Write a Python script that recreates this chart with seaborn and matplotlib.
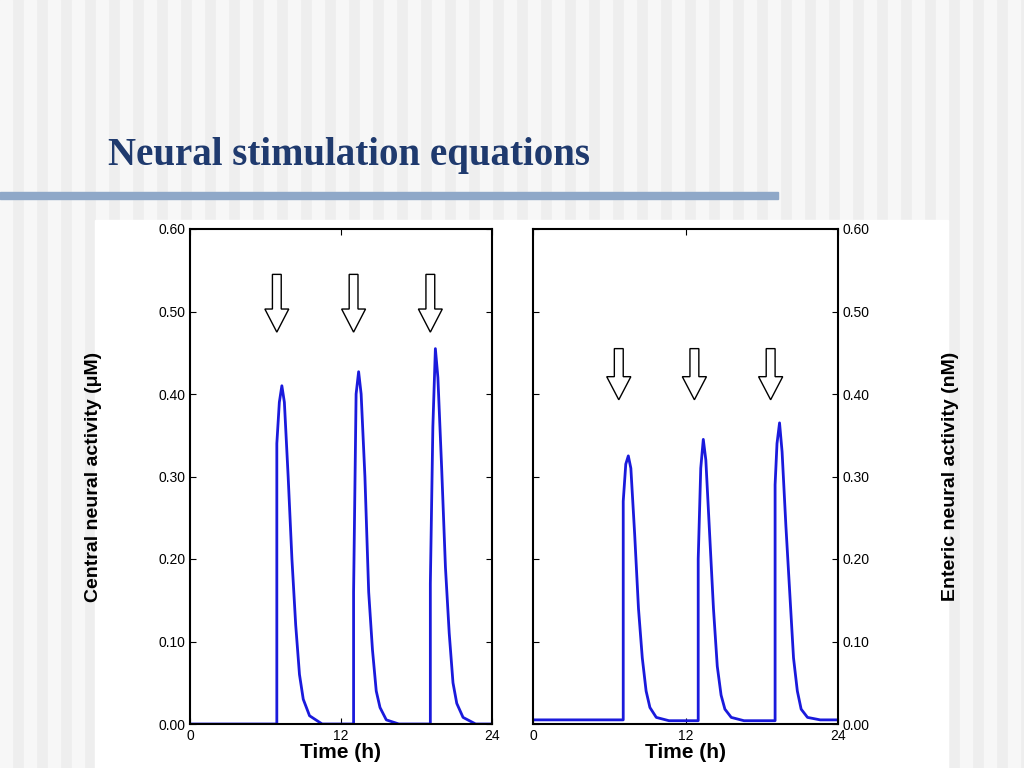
import matplotlib
matplotlib.use("Agg")
import matplotlib.pyplot as plt
import seaborn as sns
import pandas as pd
from matplotlib.patches import Rectangle, FancyArrow

plt.rcParams["font.family"] = "Liberation Sans"

# Central neural activity (uM)
central_t = [0, 6.9, 6.9, 7.1, 7.3, 7.5, 7.8, 8.1, 8.4, 8.7, 9.0, 9.5, 10.5,
             13.0, 13.0, 13.2, 13.4, 13.6, 13.9, 14.2, 14.5, 14.8, 15.1, 15.6, 16.6,
             19.1, 19.1, 19.3, 19.5, 19.7, 20.0, 20.3, 20.6, 20.9, 21.2, 21.7, 22.7, 24]
central_v = [0, 0, 0.34, 0.39, 0.41, 0.39, 0.30, 0.20, 0.12, 0.06, 0.03, 0.01, 0.0,
             0, 0.16, 0.40, 0.427, 0.40, 0.30, 0.16, 0.09, 0.04, 0.02, 0.005, 0.0,
             0, 0.17, 0.36, 0.455, 0.42, 0.31, 0.19, 0.11, 0.05, 0.025, 0.008, 0.0, 0.0]
# Enteric neural activity (nM)
enteric_t = [0, 7.1, 7.1, 7.3, 7.5, 7.7, 8.0, 8.3, 8.6, 8.9, 9.2, 9.7, 10.7, 13.0,
             13.0, 13.2, 13.4, 13.6, 13.9, 14.2, 14.5, 14.8, 15.1, 15.6, 16.6, 19.05,
             19.05, 19.2, 19.4, 19.6, 19.9, 20.2, 20.5, 20.8, 21.1, 21.6, 22.6, 24]
enteric_v = [0.005, 0.005, 0.27, 0.315, 0.325, 0.31, 0.23, 0.14, 0.08, 0.04, 0.02, 0.008, 0.004, 0.004,
             0.20, 0.31, 0.345, 0.32, 0.23, 0.14, 0.07, 0.035, 0.018, 0.008, 0.004, 0.004,
             0.29, 0.34, 0.365, 0.33, 0.24, 0.16, 0.08, 0.04, 0.018, 0.008, 0.005, 0.005]
central_arrows = [6.9, 13.0, 19.1]
enteric_arrows = [6.75, 12.7, 18.7]

fig = plt.figure(figsize=(10.24, 7.68), dpi=100)
fig.patch.set_facecolor("#eeeeee")
for i in range(0, 1024, 24):
    fig.add_artist(Rectangle((i/1024, 0), 12/1024, 1, transform=fig.transFigure,
                             color="#f7f7f7", zorder=-5))
fig.add_artist(Rectangle((0, 1-199/768), 778/1024, 7/768, transform=fig.transFigure,
                         color="#8fa8c8", zorder=-4))
fig.add_artist(Rectangle((95/1024, 0), 853/1024, 548/768, transform=fig.transFigure,
                         color="white", zorder=-3))
fig.text(108/1024, 1-155/768, "Neural stimulation equations", fontsize=28,
         family="Liberation Serif", color="#1f3a6e", fontweight="bold", va="center")

axL = fig.add_axes([190/1024, 44/768, 302/1024, 495/768])
axR = fig.add_axes([533/1024, 44/768, 305/1024, 495/768])

sns.lineplot(x=central_t, y=central_v, ax=axL, color="#1a1adc", lw=2, sort=False,
             estimator=None)
sns.lineplot(x=enteric_t, y=enteric_v, ax=axR, color="#1a1adc", lw=2, sort=False,
             estimator=None)

for ax, arrows, top, bot in [(axL, central_arrows, 0.545, 0.475),
                             (axR, enteric_arrows, 0.455, 0.393)]:
    ax.set_xlim(0, 24)
    ax.set_ylim(0, 0.6)
    ax.set_xticks([0, 12, 24])
    ax.set_yticks([0, 0.1, 0.2, 0.3, 0.4, 0.5, 0.6])
    ax.set_yticklabels(["0.00", "0.10", "0.20", "0.30", "0.40", "0.50", "0.60"])
    ax.tick_params(direction="in", top=True, right=True, labelsize=10, length=4)
    ax.set_xlabel("Time (h)", fontsize=15, fontweight="bold", labelpad=0)
    for s in ax.spines.values():
        s.set_linewidth(1.5)
    for x in arrows:
        ax.add_patch(FancyArrow(x, top, 0, bot-top, width=0.7, head_width=1.9,
                                head_length=0.028, length_includes_head=True,
                                facecolor="white", edgecolor="black", lw=1))
axL.set_ylabel("Central neural activity (μM)", fontsize=14, fontweight="bold", labelpad=40)
axR.yaxis.tick_right()
axR.tick_params(labelleft=False, labelright=True, left=True)
axR.yaxis.set_label_position("right")
axR.set_ylabel("Enteric neural activity (nM)", fontsize=14, fontweight="bold", labelpad=52)

fig.savefig("out.png", dpi=100)
